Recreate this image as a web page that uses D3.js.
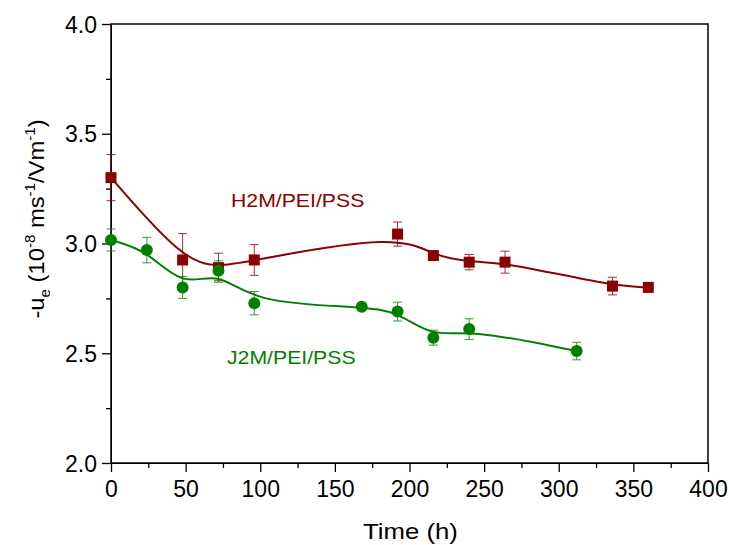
<!DOCTYPE html>
<html>
<head>
<meta charset="utf-8">
<script src="https://cdn.jsdelivr.net/npm/d3@7"></script>
<style>
  body { margin: 0; background: #fff; }
  text { font-family: "Liberation Sans", Arial, sans-serif; }
</style>
</head>
<body>
<div id="chart"></div>
<script>
// time in hours
var timeH2M = [0, 48, 72, 96, 192, 216, 240, 264, 336, 360];
var valueH2M = [3.30, 2.925, 2.89, 2.925, 3.043, 2.945, 2.915, 2.915, 2.806, 2.80];
var errH2M = [0.105, 0.12, 0.066, 0.07, 0.055, 0.01, 0.035, 0.05, 0.04, 0.02];

var timeJ2M = [0, 24, 48, 72, 96, 168, 192, 216, 240, 312];
var valueJ2M = [3.016, 2.97, 2.80, 2.876, 2.728, 2.712, 2.69, 2.571, 2.61, 2.51];
var errJ2M = [0.05, 0.058, 0.05, 0.045, 0.053, 0.01, 0.043, 0.034, 0.047, 0.04];

var xTicks = [0, 50, 100, 150, 200, 250, 300, 350, 400];
var yTicks = [2.0, 2.5, 3.0, 3.5, 4.0];

var width = 729, height = 545,
    margin = {top: 24, right: 21, bottom: 82, left: 111};

var svg = d3.select("#chart").append("svg")
    .attr("width", width)
    .attr("height", height);

var x = d3.scaleLinear().domain([0, 400]).range([margin.left, width - margin.right]);
var y = d3.scaleLinear().domain([2, 4]).range([height - margin.bottom, margin.top]);

function zip(t, v, e) {
    return t.map(function (d, i) { return {t: d, v: v[i], e: e[i]}; });
}

var series = [
    {name: "H2M/PEI/PSS", color: "#8b0000", shape: "square", data: zip(timeH2M, valueH2M, errH2M),
     lx: 231, ly: 207},
    {name: "J2M/PEI/PSS", color: "#008000", shape: "circle", data: zip(timeJ2M, valueJ2M, errJ2M),
     lx: 227, ly: 364}
];

// axes
var xAxis = svg.append("g")
    .attr("transform", "translate(0," + y(2) + ")")
    .call(d3.axisBottom(x).tickValues(xTicks).tickSize(9).tickSizeOuter(0).tickFormat(d3.format("d")));
svg.append("g")
    .attr("transform", "translate(0," + y(2) + ")")
    .call(d3.axisBottom(x).tickValues(d3.range(25, 400, 50)).tickSize(5).tickFormat(""))
    .select(".domain").remove();

var yAxis = svg.append("g")
    .attr("transform", "translate(" + x(0) + ",0)")
    .call(d3.axisLeft(y).tickValues(yTicks).tickSize(9).tickSizeOuter(0).tickFormat(d3.format(".1f")));
svg.append("g")
    .attr("transform", "translate(" + x(0) + ",0)")
    .call(d3.axisLeft(y).tickValues([2.25, 2.75, 3.25, 3.75]).tickSize(5).tickFormat(""))
    .select(".domain").remove();

svg.selectAll(".tick line").attr("stroke", "#000").attr("stroke-width", 1.3);
svg.selectAll(".tick text").attr("font-size", 23).attr("fill", "#000");
xAxis.selectAll(".tick text").attr("y", 34).attr("dy", 0);
yAxis.selectAll(".tick text").attr("x", -14).attr("dy", "0.35em");

// frame
svg.append("rect")
    .attr("x", x(0)).attr("y", y(4))
    .attr("width", x(400) - x(0)).attr("height", y(2) - y(4))
    .attr("fill", "none").attr("stroke", "#000").attr("stroke-width", 1.5);

// titles
svg.append("text")
    .attr("transform", "translate(" + ((x(0) + x(400)) / 2 + 1) + ",539) scale(1.12,1)")
    .attr("text-anchor", "middle")
    .attr("font-size", 23)
    .text("Time (h)");

var yt = svg.append("text")
    .attr("transform", "translate(44,219) rotate(-90) scale(1.08,1)")
    .attr("text-anchor", "middle")
    .attr("font-size", 22);
yt.append("tspan").text("-u");
yt.append("tspan").attr("font-size", 14).attr("dy", 6).text("e");
yt.append("tspan").attr("dy", -6).text(" (10");
yt.append("tspan").attr("font-size", 14).attr("dy", -9).text("-8");
yt.append("tspan").attr("dy", 9).text(" ms");
yt.append("tspan").attr("font-size", 14).attr("dy", -9).text("-1");
yt.append("tspan").attr("dy", 9).text("/Vm");
yt.append("tspan").attr("font-size", 14).attr("dy", -9).text("-1");
yt.append("tspan").attr("dy", 9).text(")");

var line = d3.line()
    .x(function (d) { return x(d.t); })
    .y(function (d) { return y(d.v); })
    .curve(d3.curveBasis);

series.forEach(function (s) {
    var g = svg.append("g");

    g.append("path")
        .attr("d", line(s.data))
        .attr("fill", "none")
        .attr("stroke", s.color)
        .attr("stroke-width", 2);

    var eb = g.selectAll(".err").data(s.data).enter().append("g")
        .attr("stroke", s.color).attr("stroke-width", 1).attr("opacity", 0.8);
    eb.append("line")
        .attr("x1", function (d) { return x(d.t); })
        .attr("x2", function (d) { return x(d.t); })
        .attr("y1", function (d) { return y(d.v - d.e); })
        .attr("y2", function (d) { return y(d.v + d.e); });
    [1, -1].forEach(function (sign) {
        eb.append("line")
            .attr("x1", function (d) { return x(d.t) - 4.5; })
            .attr("x2", function (d) { return x(d.t) + 4.5; })
            .attr("y1", function (d) { return y(d.v + sign * d.e); })
            .attr("y2", function (d) { return y(d.v + sign * d.e); });
    });

    if (s.shape === "square") {
        g.selectAll(".pt").data(s.data).enter().append("rect")
            .attr("x", function (d) { return x(d.t) - 5.5; })
            .attr("y", function (d) { return y(d.v) - 5.5; })
            .attr("width", 11).attr("height", 11)
            .attr("fill", s.color);
    } else {
        g.selectAll(".pt").data(s.data).enter().append("circle")
            .attr("cx", function (d) { return x(d.t); })
            .attr("cy", function (d) { return y(d.v); })
            .attr("r", 6)
            .attr("fill", s.color);
    }

    svg.append("text")
        .attr("transform", "translate(" + s.lx + "," + s.ly + ") scale(1.18,1)")
        .attr("font-size", 18)
        .attr("fill", s.color)
        .text(s.name);
});
</script>
</body>
</html>
